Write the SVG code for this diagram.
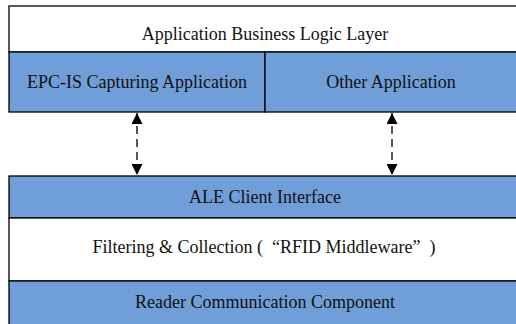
<svg xmlns="http://www.w3.org/2000/svg" width="516" height="324" viewBox="0 0 516 324">
<defs>
<style>
.w{fill:#ffffff;stroke:#000;stroke-width:1.3}
.b{fill:#6f9ed9;stroke:#000;stroke-width:1.3}
text{font-family:"Liberation Serif","Times New Roman",serif;font-size:18px;fill:#111;text-anchor:middle}
.c{stroke:#000;stroke-width:1.3;stroke-dasharray:8,5;fill:none}
</style>
<marker id="ah" viewBox="0 0 10 10" refX="10" refY="5" markerWidth="16" markerHeight="11" markerUnits="userSpaceOnUse" orient="auto-start-reverse">
<path d="M0,0 L10,5 L0,10 z" fill="#000"/>
</marker>
</defs>
<g id="business-logic">
<rect class="w" x="9" y="6" width="520" height="46"/>
<text x="265" y="40">Application Business Logic Layer</text>
</g>
<g id="epcis">
<rect class="b" x="9" y="52" width="256" height="60"/>
<text x="137" y="88">EPC-IS Capturing Application</text>
</g>
<g id="other">
<rect class="b" x="265" y="52" width="264" height="60"/>
<text x="391" y="88">Other Application</text>
</g>
<g id="ale">
<rect class="b" x="9" y="176" width="520" height="42"/>
<text x="265" y="203">ALE Client Interface</text>
</g>
<g id="filtering">
<rect class="w" x="9" y="218" width="520" height="63"/>
<text x="264" y="253">Filtering &amp; Collection (<tspan dx="9">“RFID Middleware”</tspan><tspan dx="9">)</tspan></text>
</g>
<g id="reader">
<rect class="b" x="9" y="281" width="520" height="50"/>
<text x="265" y="308">Reader Communication Component</text>
</g>
<g id="connectors">
<line class="c" x1="137" y1="113" x2="137" y2="175" marker-start="url(#ah)" marker-end="url(#ah)"/>
<line class="c" x1="392" y1="113" x2="392" y2="175" marker-start="url(#ah)" marker-end="url(#ah)"/>
</g>
</svg>
